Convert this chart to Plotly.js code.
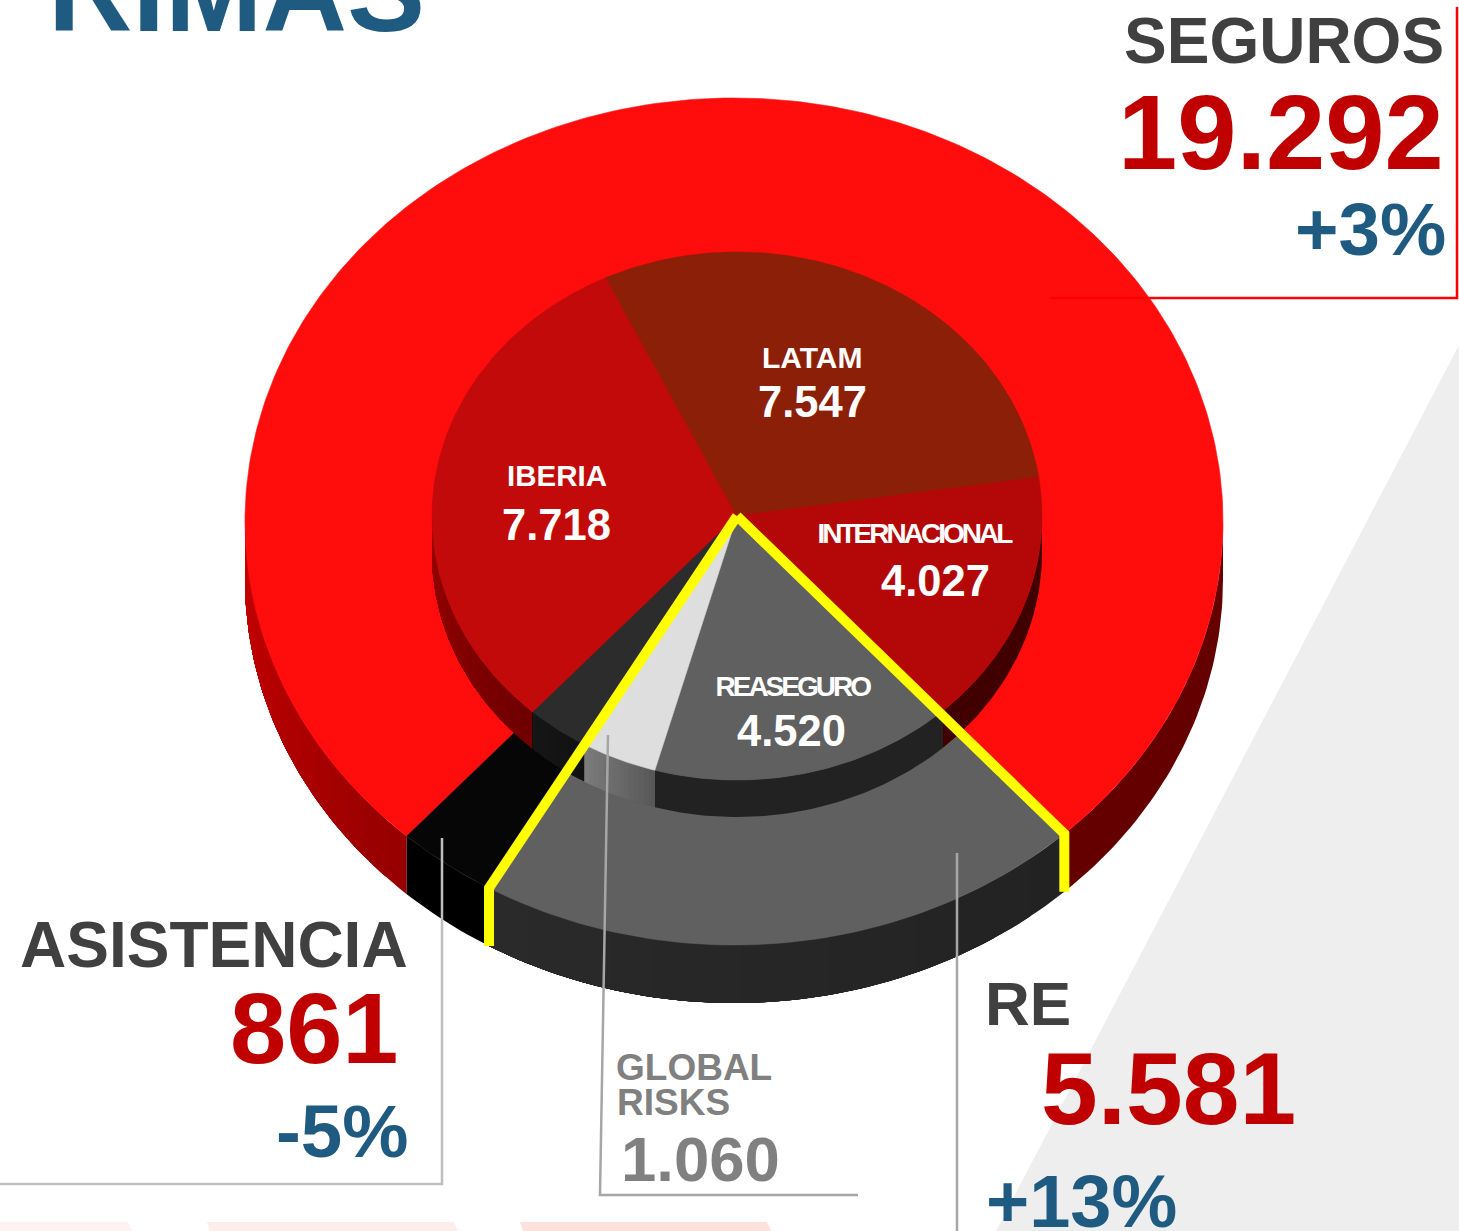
<!DOCTYPE html>
<html>
<head>
<meta charset="utf-8">
<script src="https://cdn.plot.ly/plotly-3.0.1.min.js"></script>
<style>html,body{margin:0;padding:0;background:#fff;overflow:hidden}#chart{width:1459px;height:1231px}</style>
</head>
<body>
<div id="chart"></div>
<script>
// ---------- data ----------
const outerLabels = ['SEGUROS', 'RE', 'ASISTENCIA'];
const outerValues = [19292, 5581, 861];
const outerGrowth = ['+3%', '+13%', '-5%'];
const innerLabels = ['IBERIA', 'LATAM', 'INTERNACIONAL', 'REASEGURO', 'GLOBAL RISKS', 'ASISTENCIA'];
const innerValues = [7718, 7547, 4027, 4520, 1060, 861];

// ---------- styles ----------
const outerTop = ['#FF0D0D', '#606060', '#060606'];
const innerTop = ['#C30A0A', '#8C1F08', '#B40808', '#606060', '#DEDEDE', '#2C2C2C'];
const outerWall = [[['#960000', '#C80000'], ['#640000', '#640000']], [['#222222', '#2A2A2A']], [['#000000', '#000000']]];
const innerWall = [[['#6E0000', '#9A0000']], [], [['#400000', '#400000']], [['#222222', '#222222']], [['#575757', '#7C7C7C']], [['#111111', '#161616']]];
const outerDisc = {cx: 734, cy: 521.5, rx: 489, ry: 423.5, depth: 58};
const innerDisc = {cx: 737, cy: 516, rx: 305, ry: 264, depth: 37};
const START_ANGLE = 222;
const FONT = '"Liberation Sans", Arial, sans-serif';
const DARK = '#404040', RED = '#C00000', BLUE = '#1F5A80', GREY = '#808080';

// ---------- geometry ----------
const rad = d => d * Math.PI / 180;
// tilt distortion of the 3-D view: slices at the back look a little wider
const persp = t => { const x = 1 + Math.cos(rad(t - 60)); return t + 6 * Math.tanh(x * x); };
const pt = (d, t) => [d.cx + d.rx * Math.sin(rad(t)), d.cy - d.ry * Math.cos(rad(t))];
function arc(d, a, b) {
  const pts = [], n = Math.max(2, Math.ceil(Math.abs(b - a)));
  for (let i = 0; i <= n; i++) pts.push(pt(d, a + (b - a) * i / n));
  return pts;
}
function sliceAngles(values) {
  const total = values.reduce((s, v) => s + v, 0);
  let c = START_ANGLE;
  return values.map(v => { const a = c; c += v / total * 360; return [persp(a), persp(c)]; });
}
function poly(pts, color, w) {
  return {type: 'scatter', mode: 'lines', x: pts.map(p => p[0]), y: pts.map(p => p[1]),
    fill: 'toself', fillcolor: color, line: {color: color, width: w}, hoverinfo: 'skip', showlegend: false};
}
const hex = c => [1, 3, 5].map(i => parseInt(c.substr(i, 2), 16));
function mix(a, b, f) {
  const x = hex(a), y = hex(b);
  return 'rgb(' + x.map((v, i) => Math.round(v + (y[i] - v) * f)).join(',') + ')';
}
function wallTraces(d, angles, walls) {
  const out = [];
  angles.forEach((ang, i) => {
    const segs = [];
    [[90, 270], [450, 630]].forEach(w => {
      const a = Math.max(ang[0], w[0]), b = Math.min(ang[1], w[1]);
      if (b > a) segs.push([a, b]);
    });
    segs.forEach((s, k) => {
      const cols = walls[i][k];
      if (!cols) return;
      const bands = cols[0] === cols[1] ? 1 : 14;
      for (let j = 0; j < bands; j++) {
        // each band runs on to the end of the segment, so later bands paint over it without seams
        const a = s[0] + (s[1] - s[0]) * j / bands;
        const top = arc(d, a, s[1]);
        const bot = top.map(p => [p[0], p[1] + d.depth]).reverse();
        out.push(poly(top.concat(bot, [top[0]]), mix(cols[0], cols[1], (j + 0.5) / bands), 0));
      }
    });
  });
  return out;
}
function topTraces(d, angles, colors) {
  return angles.map((ang, i) => {
    const c = [d.cx, d.cy];
    return poly([c].concat(arc(d, ang[0], ang[1]), [c]), colors[i], 0.6);
  });
}

const outerAng = sliceAngles(outerValues);
const innerAng = sliceAngles(innerValues);
const traces = [].concat(
  wallTraces(outerDisc, outerAng, outerWall),
  topTraces(outerDisc, outerAng, outerTop),
  wallTraces(innerDisc, innerAng, innerWall),
  topTraces(innerDisc, innerAng, innerTop)
);

// yellow outline of the RE slice, from the inner disc's centre to the rim
const tip = [innerDisc.cx, innerDisc.cy];
[outerAng[1][0], outerAng[1][1]].forEach(t => {
  const rim = pt(outerDisc, t);
  traces.push({type: 'scatter', mode: 'lines', x: [tip[0], rim[0], rim[0]], y: [tip[1], rim[1], rim[1] + outerDisc.depth],
    line: {color: '#FFFF00', width: 10, simplify: false}, hoverinfo: 'skip', showlegend: false});
});

// ---------- text ----------
const fmt = v => String(v).replace(/\B(?=(\d{3})+$)/g, '.');
function T(text, x, y, size, color, spacing) { return {text, x, y, size, color, spacing}; }
const texts = [
  T('RIMAS', 236, -9, 117, BLUE),
  T(outerLabels[0], 1284, 41, 64, DARK),
  T(fmt(outerValues[0]), 1281, 132, 106.5, RED),
  T(outerGrowth[0], 1370, 229, 74.5, BLUE),
  T(outerLabels[2], 214, 945, 64, DARK),
  T(fmt(outerValues[2]), 314, 1028, 101, RED),
  T(outerGrowth[2], 342, 1131, 74.5, BLUE),
  T(outerLabels[1], 1028, 1003, 62, DARK),
  T(fmt(outerValues[1]), 1168, 1089, 102, RED),
  T(outerGrowth[1], 1081, 1201, 74, BLUE),
  T('GLOBAL', 694, 1067, 37, GREY),
  T('RISKS', 673, 1102, 37, GREY),
  T(fmt(innerValues[4]), 700, 1159, 63.5, GREY),
  T(innerLabels[1], 812, 357, 30, '#FFFFFF'),
  T(fmt(innerValues[1]), 812, 402, 43.5, '#FFFFFF'),
  T(innerLabels[0], 557, 476, 29.5, '#FFFFFF'),
  T(fmt(innerValues[0]), 556, 525, 43.5, '#FFFFFF'),
  T(innerLabels[2], 914, 533, 28, '#FFFFFF', -3),
  T(fmt(innerValues[2]), 935, 581, 43.5, '#FFFFFF'),
  T(innerLabels[3], 792, 686, 28, '#FFFFFF', -3),
  T(fmt(innerValues[3]), 791, 731, 43.5, '#FFFFFF')
];
const H = 1231;
const annotations = texts.map(t => ({
  text: t.text, xref: 'x', x: t.x, yref: 'paper', y: 1 - t.y / H,
  xanchor: 'center', yanchor: 'middle', showarrow: false, borderpad: 0, borderwidth: 0,
  font: {family: FONT, size: t.size, color: t.color, weight: 700}
}));
const css = texts.map((t, i) => t.spacing ? `g.annotation[data-index="${i}"] text{letter-spacing:${t.spacing}px}` : '').join('');
const st = document.createElement('style'); st.textContent = css; document.head.appendChild(st);

// ---------- decoration ----------
const bgShape = (path, color) => ({type: 'path', xref: 'x', yref: 'y', path, fillcolor: color, line: {width: 0}, layer: 'below'});
const leader = (path, color, w) => ({type: 'path', xref: 'x', yref: 'y', path, fillcolor: 'rgba(0,0,0,0)', line: {color, width: w}, layer: 'above'});
const shapes = [
  bgShape('M1459,345 L996,1231 L1459,1231 Z', '#EEEEEE'),
  bgShape('M0,1222 L128,1222 L132,1231 L0,1231 Z', '#FEF3F1'),
  bgShape('M207,1222 L454,1222 L458,1231 L210,1231 Z', '#FDEEEC'),
  bgShape('M520,1222 L767,1222 L771,1231 L523,1231 Z', '#FEE0DC'),
  leader('M1050,298 L1457,298 L1457,7', '#FF0000', 2.5),
  leader('M442,838 L442,1184 L0,1184', '#BFBFBF', 2.5),
  leader('M608,735 L600,1195 L858,1195', '#A6A6A6', 2.5),
  leader('M957,853 L957,1231', '#A6A6A6', 2.5)
];

Plotly.newPlot('chart', traces, {
  width: 1459, height: H,
  margin: {l: 0, r: 0, t: 0, b: 0, pad: 0},
  paper_bgcolor: '#FFFFFF', plot_bgcolor: 'rgba(0,0,0,0)',
  showlegend: false, hovermode: false,
  xaxis: {visible: false, range: [0, 1459], fixedrange: true},
  yaxis: {visible: false, range: [H, 0], fixedrange: true},
  annotations, shapes
}, {displayModeBar: false, staticPlot: true});
</script>
</body>
</html>
